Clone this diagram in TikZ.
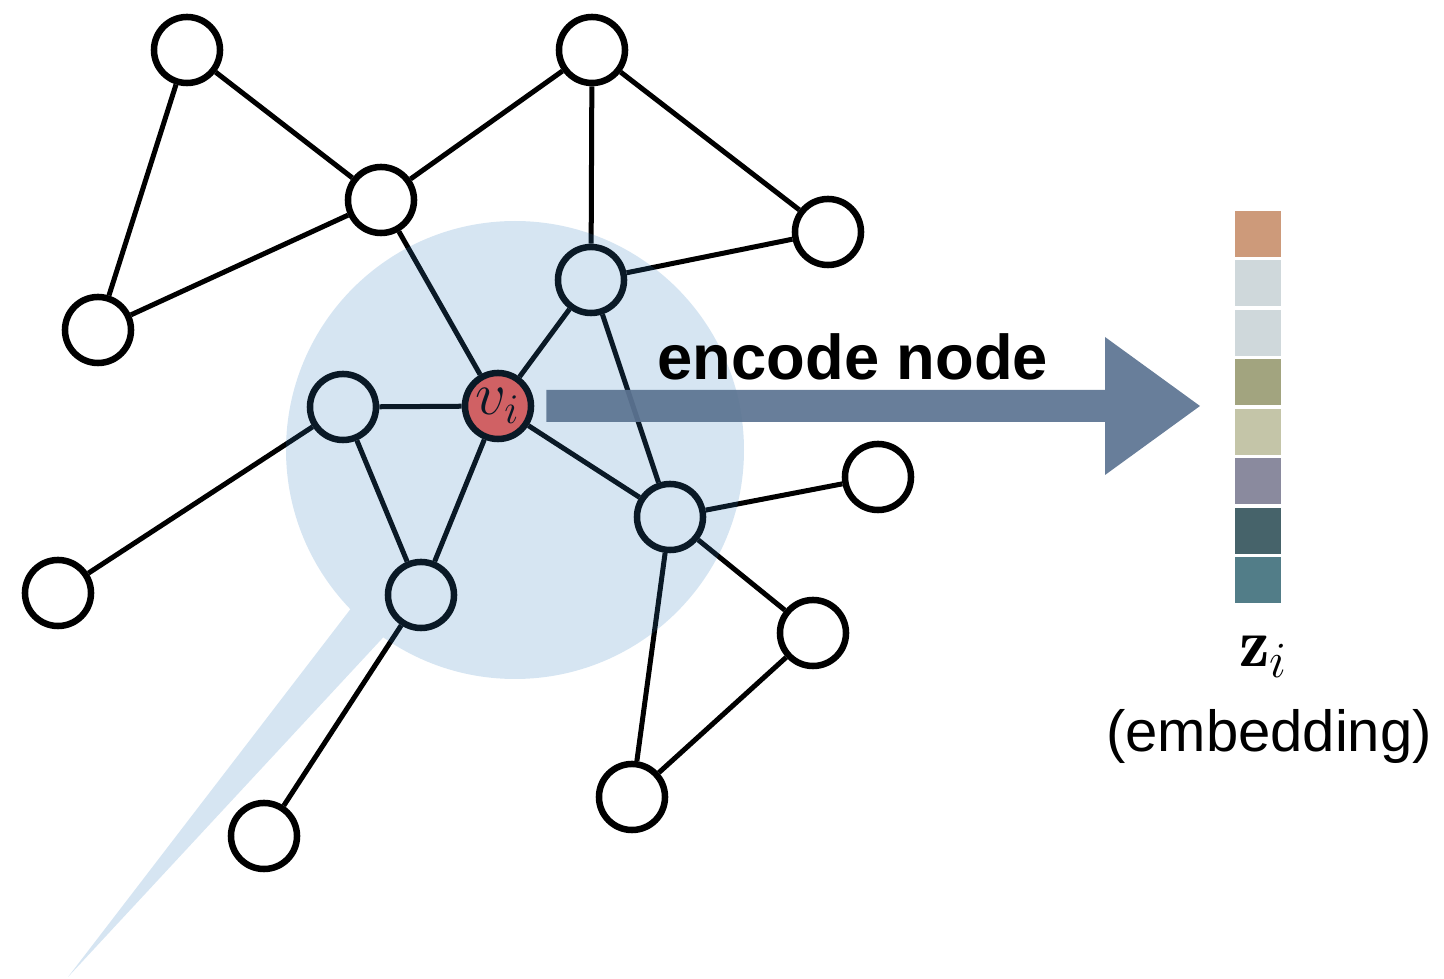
\documentclass[tikz,border=0pt]{standalone}
\usepackage{amsmath,amssymb}
\usepackage{xcolor}
\usepackage{fontspec}
\setsansfont{Liberation Sans}
\usetikzlibrary{positioning,calc}

\definecolor{hoodblue}{RGB}{50,125,190}
\definecolor{nodered}{RGB}{248,90,78}
\definecolor{arrowblue}{RGB}{92,116,146}
\definecolor{emb0}{RGB}{205,154,122}
\definecolor{emb1}{RGB}{207,216,219}
\definecolor{emb2}{RGB}{207,216,219}
\definecolor{emb3}{RGB}{162,164,127}
\definecolor{emb4}{RGB}{196,197,168}
\definecolor{emb5}{RGB}{138,138,158}
\definecolor{emb6}{RGB}{70,99,106}
\definecolor{emb7}{RGB}{82,125,136}

\begin{document}
\begin{tikzpicture}[
  x=0.01cm, y=-0.01cm,
  vertex/.style={circle, draw=black, fill=white, line width=0.065cm, minimum size=0.66cm, inner sep=0pt},
  target/.style={vertex, fill=nodered, font=\fontsize{18}{20}\selectfont},
  link/.style={line width=0.05cm, black},
  hood/.style={fill=hoodblue},
  bigarrow/.style={fill=arrowblue, opacity=0.93}
]
\useasboundingbox (0,0) rectangle (1444,979);
\foreach \name/\px/\py in {
  n1/187/50,
  n2/592/50,
  n3/381/200,
  n4/828/232,
  n5/98/330,
  n6/591/280,
  n7/343/407,
  n9/878/477,
  n10/670/517,
  n11/58/593,
  n12/421/595,
  n13/813/633,
  n14/632/797,
  n15/264/836%
}{
  \node[vertex] (\name) at (\px,\py) {};
}
\node[target] (vi) at (498,406) {$v_i$};
\foreach \a/\b in {
  n1/n3, n1/n5, n5/n3, n3/n2, n2/n4, n2/n6, n6/n4,
  n3/vi, n6/vi, n6/n10, n7/vi, n7/n11, n7/n12, vi/n12,
  vi/n10, n10/n9, n10/n13, n10/n14, n13/n14, n12/n15%
}{
  \draw[link] (\a) -- (\b);
}
\begin{scope}[transparency group, opacity=0.2]
  \fill[hood] (515,450) circle[radius=229];
  \fill[hood] (392,555) -- (68,977) -- (430,587) -- cycle;
\end{scope}
\coordinate (tip) at (1200,406);
\fill[bigarrow] ($(vi.east)+(12,-16)$) -- ($(tip)+(-95,-16)$) -- ($(tip)+(-95,-69)$)
  -- (tip) -- ($(tip)+(-95,69)$) -- ($(tip)+(-95,16)$) -- ($(vi.east)+(12,16)$) -- cycle;
\node[anchor=base, font=\sffamily\bfseries\fontsize{18}{20}\selectfont] (enc) at (853,380) {encode node};
\foreach \k in {0,...,7}{
  \fill[emb\k] (1235,{211+49.5*\k}) rectangle +(46,46);
}
\node[anchor=base, font=\fontsize{19.5}{22}\selectfont] (zi) at (1264,667) {$\mathbf{z}_i$};
\node[anchor=base, font=\sffamily\fontsize{16.5}{18}\selectfont] (emb) at (1269,752) {(embedding)};
\end{tikzpicture}
\end{document}
